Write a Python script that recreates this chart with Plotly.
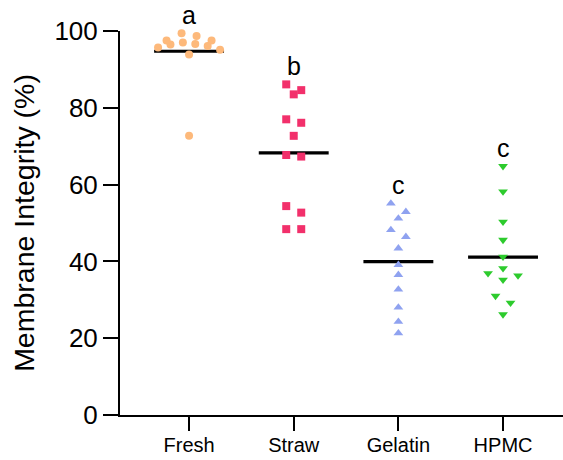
import numpy as np
import plotly.graph_objects as go

# ---------------- data ----------------
groups = ["Fresh", "Straw", "Gelatin", "HPMC"]
fresh = [96.6, 95.7, 97.0, 99.4, 96.1, 93.9, 98.7, 96.5, 97.5, 95.1, 97.5, 72.7]
straw = [86.1, 83.5, 84.6, 76.1, 77.0, 72.7, 67.3, 67.7, 54.4, 52.7, 48.4, 48.4]
gelatin = [55.1, 52.9, 51.2, 48.2, 46.4, 43.4, 39.1, 36.5, 32.7, 28.0, 24.3, 21.3]
hpmc = [64.8, 58.2, 50.3, 45.6, 41.2, 38.2, 36.9, 36.3, 35.2, 31.0, 29.2, 26.2]
sig_letters = ["a", "b", "c", "c"]
y_ticks = [0, 20, 40, 60, 80, 100]

# ---------------- styles ----------------
colors = ["#FDB97B", "#F2306B", "#8FA2F0", "#2DCB2D"]
symbols = ["circle", "square", "triangle-up", "triangle-down"]
sizes = [8, 8, 8.5, 8.5]
FONT = "Liberation Sans, Arial, sans-serif"

W, H = 563, 460
MARGIN = dict(l=120, r=0, t=31, b=45)
XR = [-0.66, 3.573]
YR = [0, 100]
px_x = (W - MARGIN["l"] - MARGIN["r"]) / (XR[1] - XR[0])
px_y = (H - MARGIN["t"] - MARGIN["b"]) / (YR[1] - YR[0])


def swarm_offsets(values, step_px=15.0, row_px=9.0, max_half_px=31.0):
    """Prism-like scatter layout: close values share a row, rows are centred."""
    ypx = np.asarray(values, dtype=float) * px_y
    order = np.argsort(-ypx, kind="stable")
    rows = []
    for idx in order:
        if rows and ypx[rows[-1][0]] - ypx[idx] < row_px:
            rows[-1].append(idx)
        else:
            rows.append([idx])
    off = np.zeros(len(ypx))
    for row in rows:
        n = len(row)
        s = min(step_px, 2 * max_half_px / (n - 1)) if n > 1 else step_px
        if n % 2:
            slots = [0]
            k = 1
            while len(slots) < n:
                slots += [-k, k]
                k += 1
        else:
            slots = []
            k = 0.5
            while len(slots) < n:
                slots += [-k, k]
                k += 1
        for j, idx in enumerate(row):
            off[idx] = slots[j] * s
    return off / px_x


series = [fresh, straw, gelatin, hpmc]
fig = go.Figure()

# mean lines (behind the points)
for i, vals in enumerate(series):
    m = float(np.mean(vals))
    fig.add_trace(go.Scatter(
        x=[i - 0.334, i + 0.334], y=[m, m], mode="lines",
        line=dict(color="black", width=3.2), cliponaxis=False,
        hoverinfo="skip", showlegend=False))

for i, vals in enumerate(series):
    xs = i + swarm_offsets(vals)
    fig.add_trace(go.Scatter(
        x=xs, y=vals, mode="markers", name=groups[i],
        marker=dict(symbol=symbols[i], size=sizes[i], color=colors[i],
                    line=dict(width=0)),
        cliponaxis=False, showlegend=False))

for i, vals in enumerate(series):
    fig.add_annotation(x=i, y=max(vals), text=sig_letters[i], showarrow=False,
                       yshift=18, yanchor="middle",
                       font=dict(family=FONT, size=25, color="black"))

fig.update_layout(
    width=W, height=H, margin=MARGIN,
    paper_bgcolor="white", plot_bgcolor="white",
    font=dict(family=FONT, color="black"),
    showlegend=False,
    xaxis=dict(range=XR, tickmode="array", tickvals=list(range(len(groups))),
               ticktext=groups, ticks="outside", ticklen=14, tickwidth=2,
               tickcolor="black", showline=True, linewidth=2, linecolor="black",
               showgrid=False, zeroline=False, ticklabelstandoff=-3,
               tickfont=dict(family=FONT, size=20, color="black")),
    yaxis=dict(range=YR, tickmode="array", tickvals=y_ticks,
               ticks="outside", ticklen=15, tickwidth=2, tickcolor="black",
               showline=True, linewidth=2, linecolor="black",
               showgrid=False, zeroline=False,
               tickfont=dict(family=FONT, size=26, color="black"),
               title=dict(text="Membrane Integrity (%)",
                          font=dict(family=FONT, size=28.5, color="black"),
                          standoff=11)),
)

fig.write_html("out.html")
